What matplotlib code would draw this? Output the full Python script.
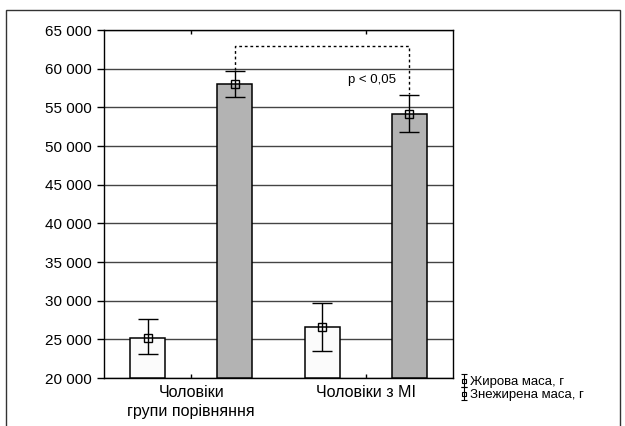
import matplotlib
matplotlib.use("Agg")
import matplotlib.pyplot as plt
import matplotlib.patches as mpatches
import numpy as np

plt.rcParams['font.family'] = ['Liberation Sans', 'DejaVu Sans']

# data: mean and error limits, grams
groups = ['Чоловіки\nгрупи порівняння', 'Чоловіки з МІ']
fat_mean = [25200, 26600]
fat_low = [23150, 23500]
fat_high = [27650, 29700]
lean_mean = [58000, 54200]
lean_low = [56300, 51800]
lean_high = [59750, 56600]
series_names = ['Жирова маса, г', 'Знежирена маса, г']
y_ticks = [20000, 25000, 30000, 35000, 40000, 45000, 50000, 55000, 60000, 65000]

def fmt(v):
    return f"{v:,}".replace(',', ' ')

fig = plt.figure(figsize=(6.25, 4.26), dpi=100)
# outer frame
fig.patches.append(mpatches.Rectangle((6 / 625, -0.05), 614 / 625, 1.05 - 10 / 426,
                                      transform=fig.transFigure, fill=False,
                                      edgecolor='#333333', linewidth=1.0))

ax = fig.add_axes([104 / 625, 1 - 378 / 426, 349 / 625, 348 / 426])
x = np.arange(len(groups))
off = 0.25
w = 0.2

ax.bar(x - off, np.array(fat_mean) - 20000, bottom=20000, width=w,
       color='#fbfbfb', edgecolor='black', linewidth=1.1, zorder=3)
ax.bar(x + off, np.array(lean_mean) - 20000, bottom=20000, width=w,
       color='#b3b3b3', edgecolor='black', linewidth=1.1, zorder=3)

for pos, m, lo, hi in [(x - off, fat_mean, fat_low, fat_high),
                       (x + off, lean_mean, lean_low, lean_high)]:
    m = np.array(m)
    err = [m - np.array(lo), np.array(hi) - m]
    ax.errorbar(pos, m, yerr=err, fmt='s', markersize=6,
                markerfacecolor='none', markeredgecolor='black',
                markeredgewidth=1.0, ecolor='black', elinewidth=1.0,
                capsize=7, capthick=1.0, zorder=4)

# small proxies for the legend icons
handles = []
for name in series_names:
    h = ax.errorbar([np.nan], [np.nan], yerr=[1], fmt='s', markersize=3,
                    markerfacecolor='none', markeredgecolor='black',
                    markeredgewidth=0.8, ecolor='black', elinewidth=0.8,
                    capsize=2.5, capthick=0.8)
    handles.append(h)

# significance bracket
y_br = 62900
ax.plot([x[0] + off, x[0] + off, x[1] + off, x[1] + off],
        [lean_high[0] + 100, y_br, y_br, lean_high[1] + 100],
        linestyle=(0, (2, 2)), color='black', linewidth=1.0, zorder=4)
ax.text(x[1] + off - 0.075, 58500, 'p < 0,05', ha='right', va='center', fontsize=9.5)

ax.set_xlim(-0.5, 1.5)
ax.set_ylim(20000, 65000)
ax.set_yticks(y_ticks)
ax.set_yticklabels([fmt(v) for v in y_ticks], fontsize=11)
ax.yaxis.grid(True, color='#444444', linewidth=1.0, zorder=0)
ax.tick_params(axis='y', direction='out', length=5, width=1.0, pad=4, right=False)
ax.set_xticks(x)
ax.set_xticklabels(groups, fontsize=11.5, linespacing=1.3)
ax.tick_params(axis='x', direction='in', length=3, width=1.0, top=True, pad=5)
for s in ax.spines.values():
    s.set_linewidth(1.0)

fig.legend(handles, series_names, loc='upper left', bbox_to_anchor=(461 / 625, 1 - 376 / 426),
           frameon=False, fontsize=9.5, handlelength=0.4, handletextpad=0.25,
           labelspacing=0.05, borderpad=0, borderaxespad=0)

fig.savefig('out.png', dpi=100)
